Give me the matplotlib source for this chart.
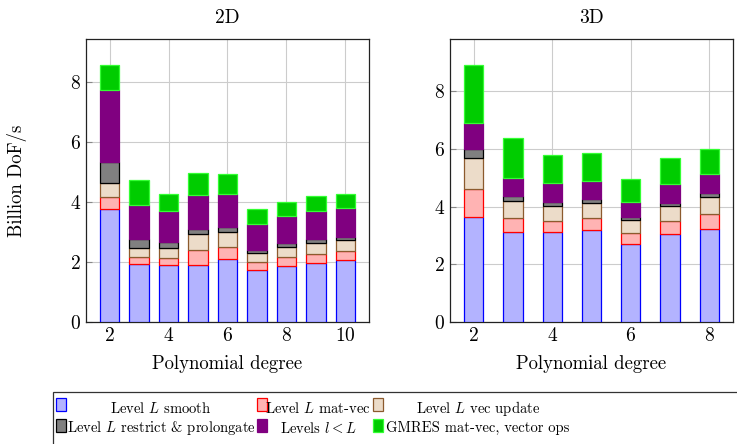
import matplotlib
matplotlib.use("Agg")
import matplotlib.pyplot as plt
from matplotlib.patches import Rectangle
import numpy as np

plt.rcParams["font.family"] = "serif"
plt.rcParams["font.serif"] = ["cmr10"]
plt.rcParams["mathtext.fontset"] = "cm"
plt.rcParams["axes.formatter.use_mathtext"] = True

# component values (Billion DoF/s), stacked bottom to top
deg_2d = [2, 3, 4, 5, 6, 7, 8, 9, 10]
smooth_2d = [3.78, 1.94, 1.91, 1.91, 2.09, 1.73, 1.86, 1.96, 2.06]
matvec_2d = [0.39, 0.24, 0.23, 0.48, 0.42, 0.26, 0.30, 0.32, 0.32]
vecupd_2d = [0.46, 0.30, 0.34, 0.55, 0.49, 0.32, 0.35, 0.36, 0.34]
restr_2d = [0.70, 0.30, 0.20, 0.17, 0.16, 0.10, 0.12, 0.13, 0.11]
levels_2d = [2.39, 1.11, 1.01, 1.11, 1.10, 0.85, 0.90, 0.92, 0.96]
gmres_2d = [0.84, 0.84, 0.59, 0.74, 0.68, 0.50, 0.46, 0.50, 0.47]

deg_3d = [2, 3, 4, 5, 6, 7, 8]
smooth_3d = [3.64, 3.13, 3.13, 3.20, 2.69, 3.04, 3.24]
matvec_3d = [0.98, 0.49, 0.38, 0.42, 0.40, 0.46, 0.52]
vecupd_3d = [1.08, 0.56, 0.50, 0.50, 0.44, 0.51, 0.56]
restr_3d = [0.29, 0.17, 0.14, 0.13, 0.11, 0.13, 0.15]
levels_3d = [0.91, 0.63, 0.65, 0.63, 0.52, 0.63, 0.67]
gmres_3d = [2.00, 1.41, 0.99, 0.96, 0.81, 0.92, 0.87]

labels = ["Level $L$ smooth", "Level $L$ mat-vec", "Level $L$ vec update",
          "Level $L$ restrict & prolongate", "Levels $l < L$",
          "GMRES mat-vec, vector ops"]
fills = ["#b3b3ff", "#ffb3b3", "#ecdcc9", "#808080", "#800080", "#00cc00"]
edges = ["#0000ff", "#ff0000", "#8c5a2e", "#000000", "#800080", "#33ff33"]

fig = plt.figure(figsize=(7.37, 4.44), dpi=100)
ax1 = fig.add_axes([86/737, 122/444, 283/737, 282.5/444])
ax2 = fig.add_axes([450/737, 122/444, 283/737, 282.5/444])


def draw(ax, x, parts, width, xlim, ylim, title, xticks):
    bottom = np.zeros(len(x))
    for vals, fc, ec in zip(parts, fills, edges):
        ax.bar(x, vals, width, bottom=bottom, color=fc, edgecolor=ec,
               linewidth=0.9, zorder=3)
        bottom = bottom + np.array(vals)
    ax.set_xlim(*xlim)
    ax.set_ylim(*ylim)
    ax.set_xticks(xticks)
    ax.set_yticks([0, 2, 4, 6, 8])
    ax.grid(True, color="#cccccc", linewidth=0.8, zorder=0)
    ax.tick_params(direction="in", color="#888888", length=4, labelsize=14)
    for s in ax.spines.values():
        s.set_color("#222222")
        s.set_linewidth(0.9)
    ax.set_title(title, fontsize=14, pad=12)
    ax.set_xlabel("Polynomial degree", fontsize=13.5, labelpad=7)


draw(ax1, deg_2d, [smooth_2d, matvec_2d, vecupd_2d, restr_2d, levels_2d, gmres_2d],
     0.65, (1.2, 10.8), (0, 9.42), "2D", [2, 4, 6, 8, 10])
draw(ax2, deg_3d, [smooth_3d, matvec_3d, vecupd_3d, restr_3d, levels_3d, gmres_3d],
     0.49, (1.4, 8.6), (0, 9.79), "3D", [2, 4, 6, 8])
ax1.set_ylabel("Billion DoF/s", fontsize=13.5)
ax1.yaxis.set_label_coords(-(86 - 27)/283, 0.5)

# legend drawn by hand, pgfplots style (centered text cells)
W, H = 737, 444
fig.patches.append(Rectangle((53/W, -0.01), 700/W, (444 - 392)/H + 0.01,
                             transform=fig.transFigure, facecolor="white",
                             edgecolor="#333333", linewidth=0.9))
marker_x = [56, 257, 373]
text_x = [161, 318, 478]
marker_y = [404, 425]
text_y = [408, 428]
for i, lab in enumerate(labels):
    r, c = divmod(i, 3)
    fig.patches.append(Rectangle((marker_x[c]/W, 1 - (marker_y[r] + 6.5)/H), 9.5/W, 13/H,
                                 transform=fig.transFigure, facecolor=fills[i],
                                 edgecolor=edges[i], linewidth=0.9))
    fig.text(text_x[c]/W, 1 - text_y[r]/H, lab, ha="center", va="center",
             fontsize=10.5)

fig.savefig("out.png", dpi=100)
